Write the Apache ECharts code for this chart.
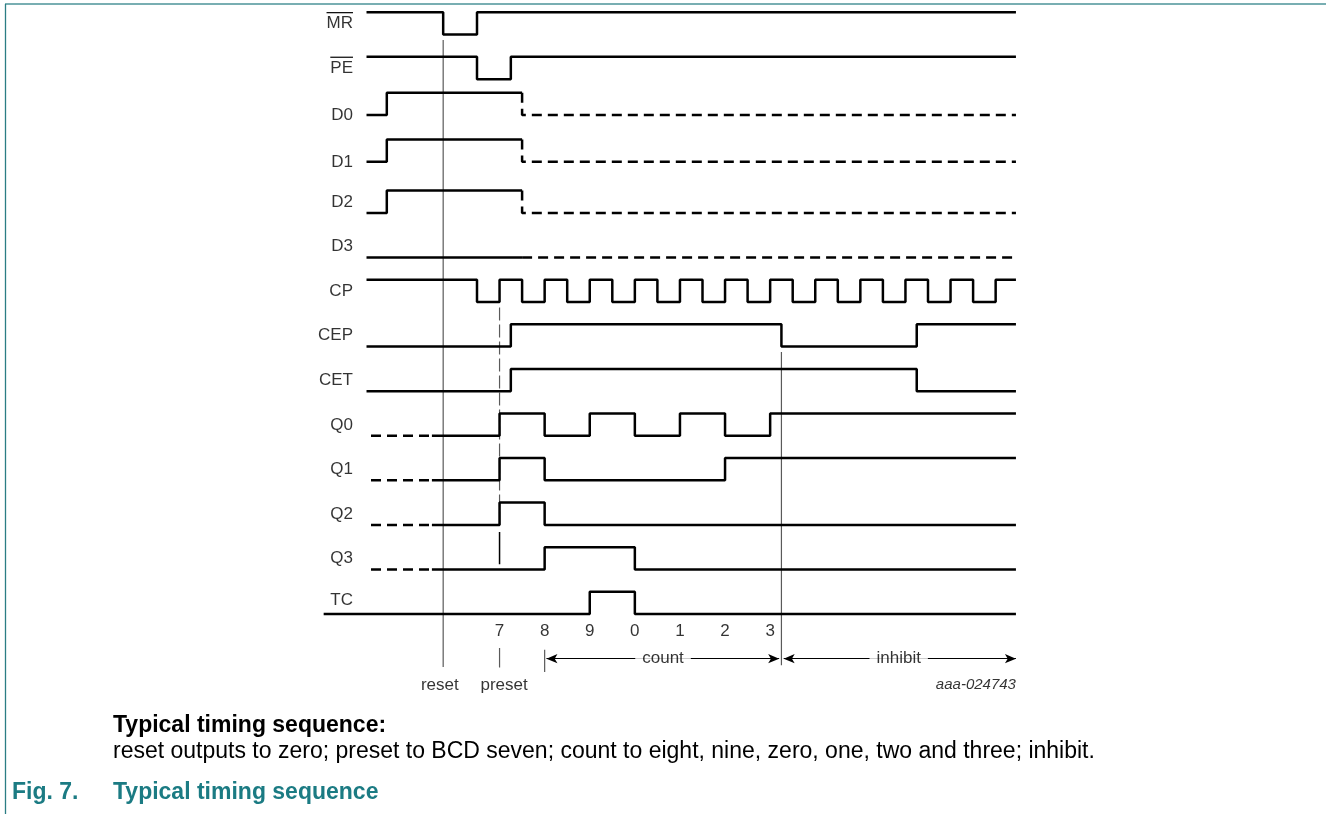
<!DOCTYPE html>
<html>
<head>
<meta charset="utf-8">
<script src="https://cdn.jsdelivr.net/npm/echarts@6/dist/echarts.min.js"></script>
<style>
html,body{margin:0;padding:0;background:#fff;}
#chart{width:1326px;height:814px;}
</style>
</head>
<body>
<div id="chart"></div>
<script>
// ---- data (time in half clock periods, level 0/1) ----
const signalNames = ['MR','PE','D0','D1','D2','D3','CP','CEP','CET','Q0','Q1','Q2','Q3','TC'];
const overlined = ['MR','PE'];

const mrWave  = [[-4.9,1],[-1.5,0],[0,1],[23.9,1]];
const peWave  = [[-4.9,1],[0,0],[1.5,1],[23.9,1]];
const d0Wave  = [[-4.9,0],[-4,1],[2,1]];
const d0Dash  = [[2,1],[2,0],[23.9,0]];
const d1Wave  = [[-4.9,0],[-4,1],[2,1]];
const d1Dash  = [[2,1],[2,0],[23.9,0]];
const d2Wave  = [[-4.9,0],[-4,1],[2,1]];
const d2Dash  = [[2,1],[2,0],[23.9,0]];
const d3Wave  = [[-4.9,0],[2,0]];
const d3Dash  = [[2,0],[23.9,0]];
const cpWave  = [[-4.9,1],[0,0],[1,1],[2,0],[3,1],[4,0],[5,1],[6,0],[7,1],[8,0],[9,1],[10,0],[11,1],[12,0],[13,1],[14,0],[15,1],[16,0],[17,1],[18,0],[19,1],[20,0],[21,1],[22,0],[23,1],[23.9,1]];
const cepWave = [[-4.9,0],[1.5,1],[13.5,0],[19.5,1],[23.9,1]];
const cetWave = [[-4.9,0],[1.5,1],[19.5,0],[23.9,0]];
const q0Dash  = [[-4.7,0],[-2,0]];
const q0Wave  = [[-2,0],[1,1],[3,0],[5,1],[7,0],[9,1],[11,0],[13,1],[23.9,1]];
const q1Dash  = [[-4.7,0],[-2,0]];
const q1Wave  = [[-2,0],[1,1],[3,0],[11,1],[23.9,1]];
const q2Dash  = [[-4.7,0],[-2,0]];
const q2Wave  = [[-2,0],[1,1],[3,0],[23.9,0]];
const q3Dash  = [[-4.7,0],[-2,0]];
const q3Wave  = [[-2,0],[3,1],[7,0],[23.9,0]];
const tcWave  = [[-6.8,0],[5,1],[7,0],[23.9,0]];

const countTimes  = [1,3,5,7,9,11,13];
const countLabels = ['7','8','9','0','1','2','3'];

const resetTime = -1.5, presetTime = 1, countStart = 3, inhibitTime = 13.5, endTime = 23.9;
const phaseLabels = ['count','inhibit'];
const markerLabels = ['reset','preset'];
const figId = 'aaa-024743';
const captionHead = 'Typical timing sequence:';
const captionBody = 'reset outputs to zero; preset to BCD seven; count to eight, nine, zero, one, two and three; inhibit.';
const figNumber = 'Fig. 7.';
const figTitle = 'Typical timing sequence';

// ---- layout (row offsets in row units) ----
const waveShift  = {D0:-0.195, D1:-0.145};
const labelShift = {D0:-0.195, D1:-0.14, TC:-0.31};

// ---- build ----
const solidWaves = {MR:mrWave,PE:peWave,D0:d0Wave,D1:d1Wave,D2:d2Wave,D3:d3Wave,CP:cpWave,CEP:cepWave,CET:cetWave,Q0:q0Wave,Q1:q1Wave,Q2:q2Wave,Q3:q3Wave,TC:tcWave};
const dashWaves = {D0:d0Dash,D1:d1Dash,D2:d2Dash,D3:d3Dash,Q0:q0Dash,Q1:q1Dash,Q2:q2Dash,Q3:q3Dash};

const FONT = '"Liberation Sans", Arial, sans-serif';
const LW = 2.5;
const series = [];
function toXY(wave,row){ return wave.map(p => [p[0], row - 0.5*p[1]]); }

signalNames.forEach((n,i) => {
  const row = i + (waveShift[n] || 0);
  series.push({type:'line', step:'end', symbol:'none', silent:true, animation:false,
    data: toXY(solidWaves[n],row), lineStyle:{color:'#000', width:LW}, z:3});
  if (dashWaves[n]) series.push({type:'line', step:'end', symbol:'none', silent:true, animation:false,
    data: toXY(dashWaves[n],row), lineStyle:{color:'#000', width:LW, type:[10,6]}, z:3});
});

const lastRow = signalNames.length - 1;
const rowCP = signalNames.indexOf('CP'), rowQ2 = signalNames.indexOf('Q2'), rowQ3 = signalNames.indexOf('Q3'), rowCEP = signalNames.indexOf('CEP');
const guide = {color:'#5a5a5a', width:1.2};
function vline(t,v1,v2,style,z){ series.push({type:'line', symbol:'none', silent:true, animation:false, data:[[t,v1],[t,v2]], lineStyle:style, z:z||2}); }
vline(resetTime, 0.12, lastRow + 1.19, guide);
vline(presetTime, rowCP + 0.12, rowQ2 + 0.05, Object.assign({type:[13,4]}, guide));
vline(presetTime, rowQ3 - 0.84, rowQ3 - 0.12, {color:'#000', width:1.5});
vline(presetTime, lastRow + 0.76, lastRow + 1.2, guide);
vline(inhibitTime, rowCEP + 0.12, lastRow + 1.15, guide);
vline(countStart, lastRow + 0.8, lastRow + 1.3, guide);

series.push({type:'line', data:[], silent:true, animation:false,
  markLine:{silent:true, animation:false, symbol:['arrow','arrow'], symbolSize:[7,11],
    lineStyle:{color:'#000', width:1, type:'solid'}, label:{show:false},
    data:[
      [{coord:[countStart+0.08, lastRow+1]},{coord:[inhibitTime-0.1, lastRow+1]}],
      [{coord:[inhibitTime+0.1, lastRow+1]},{coord:[endTime, lastRow+1]}]
    ]}});

const textSeries = (data, label, z) => ({type:'scatter', symbolSize:0, silent:true, animation:false, z:z||5,
  data, label:Object.assign({show:true, formatter:'{b}', fontFamily:FONT, fontSize:17, color:'#000'}, label)});
series.push(textSeries(signalNames.map((n,row)=>({name:n, value:[-5.5, row + (labelShift[n] !== undefined ? labelShift[n] : -0.245)]})),
  {position:'inside', align:'right', verticalAlign:'middle'}));
series.push(textSeries(countTimes.map((t,i)=>({name:countLabels[i], value:[t, lastRow+0.39]})),
  {position:'inside', align:'center', verticalAlign:'middle'}));
series.push(textSeries([
  {name:phaseLabels[0], value:[(countStart+inhibitTime)/2, lastRow+1]},
  {name:phaseLabels[1], value:[(inhibitTime+endTime)/2, lastRow+1]}],
  {position:'inside', align:'center', verticalAlign:'middle', backgroundColor:'#fff', padding:[2,7]}, 6));
series.push(textSeries([
  {name:markerLabels[0], value:[resetTime-0.15, lastRow+1.6]},
  {name:markerLabels[1], value:[presetTime+0.2, lastRow+1.6]}],
  {position:'inside', align:'center', verticalAlign:'middle'}));
series.push(textSeries([{name:figId, value:[endTime, lastRow+1.58]}],
  {position:'inside', align:'right', verticalAlign:'middle', fontStyle:'italic', fontSize:15}));

const chart = echarts.init(document.getElementById('chart'), null, {renderer:'canvas'});
chart.setOption({
  backgroundColor:'#fff',
  animation:false,
  grid:{left:319.15, right:307.8, top:12.3, bottom:110.8},
  xAxis:{type:'value', min:-7, max:24, show:false},
  yAxis:{type:'value', min:-0.5, max:15, inverse:true, show:false},
  series
});

const ctx = document.createElement('canvas').getContext('2d');
ctx.font = '17px ' + FONT;
const CAP = 23, TEAL = '#1b7b83', CAPX = 113;
const graphics = [
  {type:'line', shape:{x1:5, y1:4, x2:1326, y2:4}, style:{stroke:'#78aeb2', lineWidth:2}},
  {type:'line', shape:{x1:5.5, y1:4, x2:5.5, y2:814}, style:{stroke:'#2b7d84', lineWidth:1.3}},
  {type:'text', x:CAPX, y:726, style:{text:captionHead, font:'bold '+CAP+'px ' + FONT, fill:'#000', verticalAlign:'middle'}},
  {type:'text', x:CAPX, y:752, style:{text:captionBody, font:CAP+'px ' + FONT, fill:'#000', verticalAlign:'middle'}},
  {type:'text', x:12, y:793, style:{text:figNumber, font:'bold '+CAP+'px ' + FONT, fill:TEAL, verticalAlign:'middle'}},
  {type:'text', x:CAPX, y:793, style:{text:figTitle, font:'bold '+CAP+'px ' + FONT, fill:TEAL, verticalAlign:'middle'}}
];
overlined.forEach(n => {
  const row = signalNames.indexOf(n);
  const p = chart.convertToPixel({gridIndex:0}, [-5.5, row - 0.245]);
  const w = ctx.measureText(n).width;
  graphics.push({type:'line', shape:{x1:p[0]-w, y1:p[1]-11, x2:p[0], y2:p[1]-11}, style:{stroke:'#000', lineWidth:1.2}});
});
chart.setOption({graphic:graphics});
</script>
</body>
</html>
